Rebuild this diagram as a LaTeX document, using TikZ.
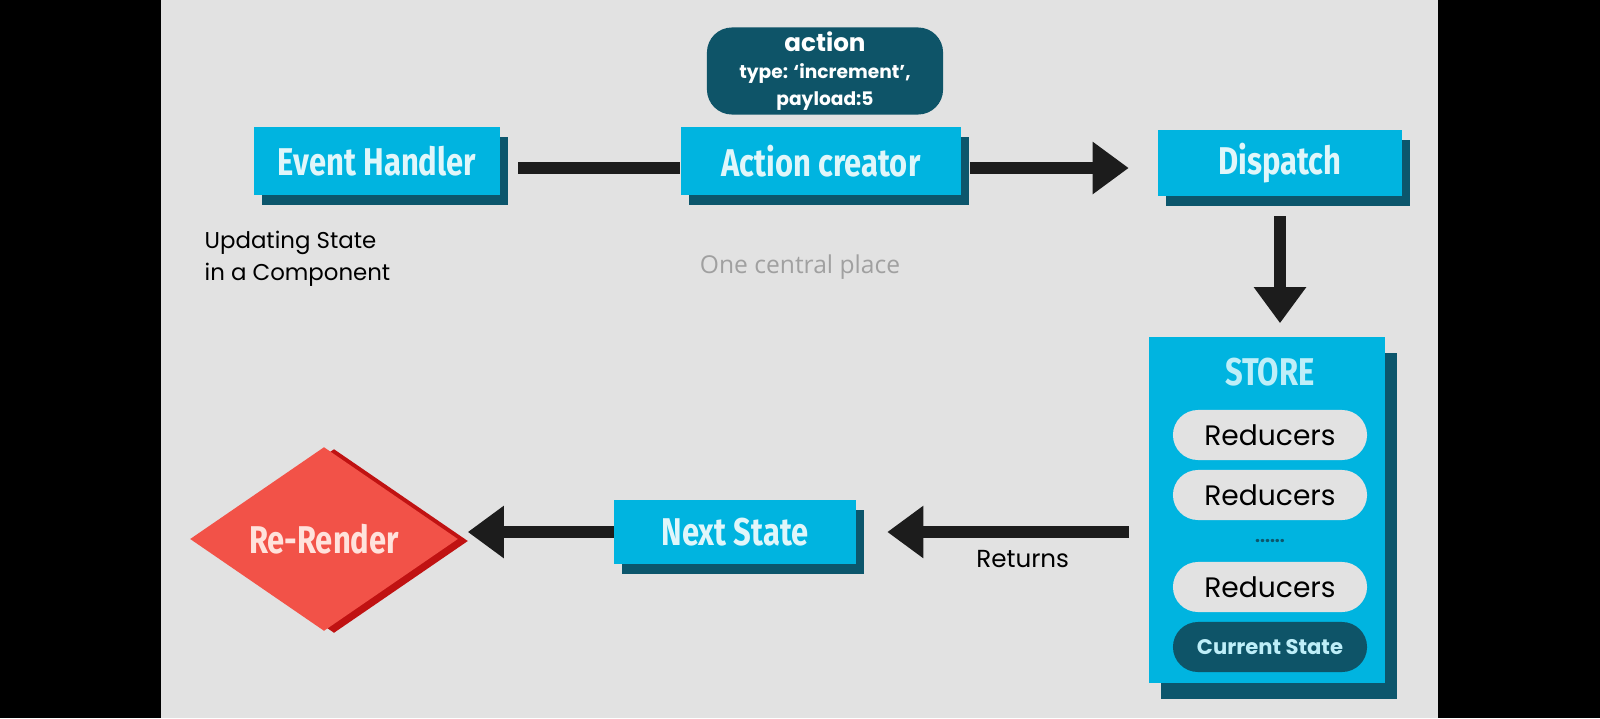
\documentclass[tikz,border=0pt]{standalone}
\usepackage{fontspec}
\setmainfont{Poppins}
\newfontfamily\HandFont{Fira Sans}[FakeStretch=0.8]
\newfontfamily\NoteFont{Open Sans}
\usepackage{tikz}
\usetikzlibrary{arrows.meta}
\usetikzlibrary{shapes.geometric}
\usetikzlibrary{shadows}
\usepackage{xcolor}
\definecolor{ColBlack}{RGB}{0,0,0}
\definecolor{ColBg}{RGB}{226,226,226}
\definecolor{ColBox}{RGB}{0,180,224}
\definecolor{ColShade}{RGB}{12,86,108}
\definecolor{ColDark}{RGB}{14,84,104}
\definecolor{ColLabel}{RGB}{224,246,250}
\definecolor{ColTitle}{RGB}{190,238,248}
\definecolor{ColPill}{RGB}{226,226,226}
\definecolor{ColRed}{RGB}{242,82,72}
\definecolor{ColRedShade}{RGB}{192,18,18}
\definecolor{ColRedText}{RGB}{255,226,220}
\definecolor{ColArrow}{RGB}{28,28,28}
\definecolor{ColNote}{RGB}{160,160,160}
\tikzstyle{BoxFlow}=[rectangle,fill=ColBox,inner sep=0pt,text=ColLabel,
font=\HandFont\bfseries\fontsize{11}{13}\selectfont,
drop shadow={fill=ColShade,opacity=1,shadow xshift=0.08cm,shadow yshift=-0.1cm}]
\tikzstyle{BoxStore}=[rectangle,fill=ColBox,inner sep=0pt,minimum width=2.36cm,minimum height=3.46cm,
drop shadow={fill=ColShade,opacity=1,shadow xshift=0.12cm,shadow yshift=-0.16cm}]
\tikzstyle{TitleStore}=[text=ColTitle,font=\HandFont\bfseries\fontsize{11}{13}\selectfont]
\tikzstyle{BubbleAction}=[rectangle,rounded corners=0.25cm,fill=ColDark,text=white,align=center,
minimum width=2.36cm,minimum height=0.87cm,inner sep=0pt,font=\bfseries\fontsize{5.3}{7.6}\selectfont]
\tikzstyle{PillStore}=[rectangle,rounded corners=0.25cm,fill=ColPill,text=black,
minimum width=1.94cm,minimum height=0.5cm,inner sep=0pt,font=\fontsize{8}{10}\selectfont]
\tikzstyle{PillState}=[PillStore,fill=ColDark,text=ColTitle,font=\bfseries\fontsize{6}{8}\selectfont]
\tikzstyle{DiamondRender}=[diamond,fill=ColRed,inner sep=0pt,minimum width=2.68cm,minimum height=1.84cm,
text=ColRedText,font=\HandFont\bfseries\fontsize{11}{13}\selectfont,
drop shadow={fill=ColRedShade,opacity=1,shadow xshift=0.1cm,shadow yshift=-0.02cm}]
\tikzstyle{NoteText}=[text=black,font=\fontsize{6.5}{9}\selectfont,inner sep=0pt]
\tikzstyle{FaintText}=[text=ColNote,font=\NoteFont\fontsize{7}{9}\selectfont,inner sep=0pt]
\tikzstyle{LinkFlow}=[ColArrow,line width=0.12cm]
\tikzstyle{ArrowFlow}=[ColArrow,line width=0.12cm,-{Triangle[width=0.5cm,length=0.36cm]}]

\begin{document}
\begin{tikzpicture}[x=0.01cm,y=-0.01cm]
        \fill[ColBlack](0,0)rectangle(1600,718);
        \fill[ColBg](161,0)rectangle(1438,718);
        \node[BoxFlow,minimum width=2.45cm,minimum height=0.67cm](EH)at(377,161){Event Handler};
        \node[BoxFlow,minimum width=2.80cm,minimum height=0.68cm](AC)at(821,161){Action creator};
        \node[BoxFlow,minimum width=2.43cm,minimum height=0.65cm](DP)at(1280,163){Dispatch};
        \node[BubbleAction](BA)at(825,71){{\fontsize{7}{8}\selectfont action}\\type: `increment',\\payload:5};
        \node[BoxStore](ST)at(1267,510){};
        \node[TitleStore](STT)at(1270,372){STORE};
        \node[PillStore](R1)at(1270,435){Reducers};
        \node[PillStore](R2)at(1270,495){Reducers};
        \node[text=ColShade,font=\bfseries\fontsize{5}{6}\selectfont,inner sep=0pt](DS)at(1270,541){......};
        \node[PillStore](R3)at(1270,587){Reducers};
        \node[PillState](CS)at(1270,647){Current State};
        \node[BoxFlow,minimum width=2.41cm,minimum height=0.64cm](NS)at(735,532){Next State};
        \node[DiamondRender](RR)at(324,539){Re-Render};
        \node[NoteText,align=left,anchor=west](UP)at(204,259){Updating State\\in a Component};
        \node[FaintText](OC)at(800,267){One central place};
        \draw[LinkFlow,shorten <=0.18cm]([yshift=-0.07cm]EH.east)--([yshift=-0.07cm]AC.west);
        \draw[ArrowFlow,shorten <=0.08cm,shorten >=0.29cm]([yshift=-0.07cm]AC.east)--([yshift=-0.07cm]AC.east-|DP.west);
        \draw[ArrowFlow,shorten <=0.2cm,shorten >=0.13cm](DP.south)--(DP.south|-ST.north);
        \draw[ArrowFlow,shorten <=0.19cm,shorten >=0.31cm](NS.east-|ST.west)--node[NoteText,font=\fontsize{7}{9}\selectfont,pos=0.43,below=0.12cm]{Returns}(NS.east);
        \draw[ArrowFlow,shorten >=0.09cm](NS.west)--(NS.west-|RR.east);
\end{tikzpicture}
\end{document}
